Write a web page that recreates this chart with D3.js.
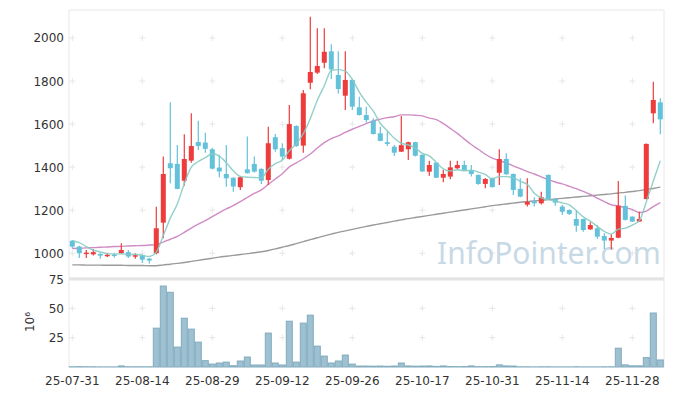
<!DOCTYPE html>
<html lang="en">
<head>
  <meta charset="UTF-8">
  <title>Candlestick chart</title>
  <style>
    body { margin: 0; background: #fff; font-family: "DejaVu Sans", sans-serif; }
    svg { display: block; }
    .tick-label { fill: #333; font-size: 12px; }
  </style>
</head>
<body>
  <svg width="673" height="396"></svg>
  <script src="https://d3js.org/d3.v7.min.js"></script>
  <script>
  const dates = [
    "25-07-31","25-08-01","25-08-04","25-08-05","25-08-06","25-08-07","25-08-08","25-08-11","25-08-12","25-08-13",
    "25-08-14","25-08-18","25-08-19","25-08-20","25-08-21","25-08-22","25-08-25","25-08-26","25-08-27","25-08-28",
    "25-08-29","25-09-01","25-09-02","25-09-03","25-09-04","25-09-05","25-09-08","25-09-09","25-09-10","25-09-11",
    "25-09-12","25-09-15","25-09-16","25-09-17","25-09-18","25-09-19","25-09-22","25-09-23","25-09-24","25-09-25",
    "25-09-26","25-09-29","25-09-30","25-10-01","25-10-02","25-10-10","25-10-13","25-10-14","25-10-15","25-10-16",
    "25-10-17","25-10-20","25-10-21","25-10-22","25-10-23","25-10-24","25-10-27","25-10-28","25-10-29","25-10-30",
    "25-10-31","25-11-03","25-11-04","25-11-05","25-11-06","25-11-07","25-11-10","25-11-11","25-11-12","25-11-13",
    "25-11-14","25-11-17","25-11-18","25-11-19","25-11-20","25-11-21","25-11-24","25-11-25","25-11-26","25-11-27",
    "25-11-28","25-12-01","25-12-02","25-12-03","25-12-04"
  ];

  const open = [
    1058,1031,1000,995,997,990,994,1000,1005,987,
    992,975,1000,1142,1418,1415,1337,1430,1517,1514,
    1483,1398,1368,1351,1307,1390,1415,1392,1340,1539,
    1488,1439,1591,1500,1792,1839,1885,1938,1828,1732,
    1805,1678,1642,1616,1557,1516,1495,1472,1483,1516,
    1457,1379,1421,1351,1356,1395,1410,1384,1364,1322,
    1348,1374,1438,1368,1299,1226,1242,1232,1364,1252,
    1217,1201,1159,1159,1111,1116,1080,1059,1072,1220,
    1170,1147,1252,1650,1701
  ];
  const high = [
    1062,1035,1015,1020,1000,1002,1002,1046,1015,1000,
    995,978,1216,1449,1701,1503,1553,1650,1615,1560,
    1490,1457,1503,1352,1355,1542,1449,1395,1588,1554,
    1511,1689,1595,1758,2099,2045,2045,1971,1938,1938,
    1808,1727,1681,1627,1588,1565,1503,1638,1518,1518,
    1460,1430,1423,1387,1430,1430,1430,1410,1366,1350,
    1352,1483,1465,1370,1348,1348,1260,1286,1366,1254,
    1224,1203,1201,1160,1144,1131,1093,1088,1336,1268,
    1172,1193,1510,1797,1720
  ];
  const low = [
    1022,978,978,990,975,983,980,997,978,975,
    955,952,995,1070,1325,1297,1314,1420,1480,1467,
    1390,1353,1309,1286,1294,1370,1375,1322,1317,1472,
    1433,1435,1495,1467,1762,1833,1859,1810,1742,1666,
    1666,1640,1607,1552,1520,1498,1452,1470,1433,1450,
    1378,1360,1349,1330,1344,1390,1385,1356,1318,1302,
    1305,1317,1365,1271,1260,1217,1217,1227,1248,1221,
    1178,1178,1100,1100,1109,1066,1019,1019,1070,1152,
    1145,1145,1250,1604,1553
  ];
  const close = [
    1031,1000,1003,1005,989,993,990,1015,985,991,
    970,966,1116,1368,1395,1299,1438,1498,1498,1485,
    1393,1380,1348,1310,1353,1372,1379,1337,1511,1483,
    1449,1600,1498,1743,1842,1870,1936,1854,1763,1805,
    1681,1642,1619,1554,1522,1508,1467,1502,1516,1453,
    1380,1410,1351,1368,1399,1410,1387,1368,1322,1345,
    1307,1438,1367,1294,1263,1238,1232,1260,1252,1235,
    1193,1183,1128,1108,1131,1077,1059,1071,1221,1155,
    1147,1159,1508,1712,1622
  ];

  // moving averages (5, 20 and long period)
  const ma5 = [
    1058,1049,1031,1015,1006,998,996,998,994,995,
    990,985,1006,1082,1163,1229,1323,1400,1426,1444,
    1462,1451,1421,1383,1357,1353,1352,1350,1390,1416,
    1432,1476,1508,1555,1626,1711,1778,1849,1853,1846,
    1808,1749,1702,1660,1604,1569,1534,1511,1503,1489,
    1464,1452,1422,1392,1382,1388,1383,1386,1377,1366,
    1346,1356,1356,1350,1334,1320,1279,1257,1249,1243,
    1234,1225,1198,1169,1149,1125,1101,1089,1112,1117,
    1131,1151,1238,1336,1430
  ];
  const ma20 = [
    1022,1023,1025,1026,1028,1029,1031,1032,1034,1035,
    1036,1038,1040,1052,1065,1078,1097,1117,1135,1152,
    1170,1189,1206,1221,1240,1259,1278,1294,1320,1345,
    1369,1401,1420,1439,1461,1489,1514,1532,1545,1561,
    1576,1589,1602,1615,1623,1630,1634,1643,1643,1641,
    1638,1628,1621,1602,1580,1557,1530,1505,1483,1460,
    1442,1431,1419,1406,1393,1379,1368,1355,1342,1331,
    1322,1311,1300,1287,1273,1256,1240,1225,1220,1211,
    1203,1189,1196,1217,1235
  ];
  const maLong = [
    946,946,945,945,945,944,944,944,943,943,
    943,942,942,946,949,953,957,962,967,972,
    977,982,986,990,994,998,1002,1007,1013,1020,
    1028,1036,1045,1054,1063,1072,1081,1089,1097,1104,
    1111,1118,1125,1131,1137,1143,1149,1155,1161,1166,
    1171,1176,1181,1186,1191,1196,1201,1206,1211,1216,
    1221,1225,1229,1233,1237,1240,1243,1246,1249,1252,
    1255,1258,1261,1264,1267,1270,1273,1276,1280,1283,
    1287,1291,1296,1301,1307
  ];

  // volume, millions of shares
  const volume = [
    0.2,0.3,0.2,0.2,0.1,0.1,0.1,0.9,0.2,0.2,
    0.2,0.2,33.1,69,63.7,17,41.6,32.3,21.2,5.4,
    2.5,3.4,4.2,1.1,5.1,8.5,1.7,1.7,28.9,3.4,
    1.7,39,4.2,37.4,44.2,17.8,9.3,3.4,5.1,10.2,
    2.5,0.8,0.8,0.7,0.8,0.6,0.8,3.4,0.9,0.7,
    0.8,0.9,0.5,0.9,0.4,0.3,0.4,0.9,0.3,0.3,
    0.4,1.8,0.9,0.8,0.2,0.2,0.1,0.2,0.2,0.1,
    0.1,0.1,0.2,0.1,0.1,0.1,0.2,0.2,16,1.8,
    1,1,8,46,6
  ];

  const priceTicks = [1000, 1200, 1400, 1600, 1800, 2000];
  const volTicks = [25, 50, 75];

  const svg = d3.select("svg");
  const plotLeft = 69, plotRight = 664, plotTop = 10, priceBottom = 278, volTop = 279, volBottom = 367;

  const x = d3.scaleBand().domain(dates).range([plotLeft - 0.2, plotLeft - 0.2 + 7 * dates.length]).padding(0);
  const cx = d => x(d) + x.bandwidth() / 2;
  const y = d3.scaleLinear().domain([885, 2130]).range([priceBottom, plotTop]);
  const yv = d3.scaleLinear().domain([0, 75]).range([volBottom, volTop]);

  const tickDates = dates.filter((d, i) => i % 10 === 0);

  // frames
  svg.append("rect").attr("x", plotLeft).attr("y", plotTop).attr("width", plotRight - plotLeft).attr("height", priceBottom - plotTop)
    .attr("fill", "none").attr("stroke", "#e8e8e8");
  svg.append("line").attr("x1", plotLeft).attr("x2", plotRight).attr("y1", volTop).attr("y2", volTop)
    .attr("stroke", "#e4e4e4").attr("stroke-width", 3);
  svg.append("line").attr("x1", plotLeft).attr("x2", plotLeft).attr("y1", volTop).attr("y2", volBottom)
    .attr("stroke", "#e8e8e8");
  svg.append("line").attr("x1", plotRight).attr("x2", plotRight).attr("y1", volTop).attr("y2", volBottom)
    .attr("stroke", "#e8e8e8");

  // grid crosses
  const cross = (g, px, py) => {
    g.append("line").attr("x1", px - 3).attr("x2", px + 3).attr("y1", py).attr("y2", py);
    g.append("line").attr("x1", px).attr("x2", px).attr("y1", py - 3).attr("y2", py + 3);
  };
  const grid = svg.append("g").attr("stroke", "#e6e6e6").attr("stroke-width", 1);
  tickDates.forEach(d => {
    priceTicks.forEach(t => cross(grid, cx(d), y(t)));
    [25, 50].forEach(t => cross(grid, cx(d), yv(t)));
  });

  // watermark
  svg.append("text").attr("x", 437).attr("y", 264)
    .attr("font-family", "Noto Sans").attr("font-size", 30)
    .attr("fill", "#c8d9e6").text("InfoPointer.com");

  // volume bars
  svg.append("g").selectAll("rect").data(dates).join("rect")
    .attr("x", d => x(d) + 0.5)
    .attr("width", x.bandwidth() - 1)
    .attr("y", (d, i) => yv(volume[i]))
    .attr("height", (d, i) => volBottom - yv(volume[i]))
    .attr("fill", "#9dc1d1")
    .attr("stroke", "#82abbe")
    .attr("stroke-width", 1);

  // moving averages
  const maLine = arr => d3.line()
    .x((d, i) => cx(dates[i]))
    .y(d => y(d))
    .curve(d3.curveMonotoneX)(arr);
  svg.append("path").attr("d", maLine(maLong)).attr("fill", "none").attr("stroke", "#9a9a9a").attr("stroke-width", 1.4);
  svg.append("path").attr("d", maLine(ma20)).attr("fill", "none").attr("stroke", "#cf8cc4").attr("stroke-width", 1.4);

  // candles
  const up = "#ee3b3b", down = "#63c1da";
  const candle = svg.append("g").selectAll("g").data(dates).join("g");
  candle.append("line")
    .attr("x1", d => cx(d)).attr("x2", d => cx(d))
    .attr("y1", (d, i) => y(high[i])).attr("y2", (d, i) => y(low[i]))
    .attr("stroke", (d, i) => close[i] >= open[i] ? up : down)
    .attr("stroke-width", 1.2);
  candle.append("rect")
    .attr("x", d => cx(d) - 2.5)
    .attr("width", 5)
    .attr("y", (d, i) => y(Math.max(open[i], close[i])))
    .attr("height", (d, i) => Math.max(1.5, Math.abs(y(open[i]) - y(close[i]))))
    .attr("fill", (d, i) => close[i] >= open[i] ? up : down);

  svg.append("path").attr("d", maLine(ma5)).attr("fill", "none").attr("stroke", "#86cbc3").attr("stroke-width", 1.4)
    .attr("stroke-opacity", 0.9);

  // axis labels
  const yAxis = svg.append("g");
  priceTicks.forEach(t => yAxis.append("text").attr("class", "tick-label")
    .attr("x", 64).attr("y", y(t) + 4.5).attr("text-anchor", "end").text(t));
  volTicks.forEach(t => yAxis.append("text").attr("class", "tick-label")
    .attr("x", 64).attr("y", yv(t) + 4.5).attr("text-anchor", "end").text(t));
  svg.append("text").attr("class", "tick-label")
    .attr("transform", "translate(34,322) rotate(-90)")
    .attr("text-anchor", "middle").text("10⁶");

  const xAxis = svg.append("g");
  tickDates.forEach(d => xAxis.append("text").attr("class", "tick-label")
    .attr("x", cx(d)).attr("y", 385).attr("text-anchor", "middle").text(d));
  </script>
</body>
</html>
